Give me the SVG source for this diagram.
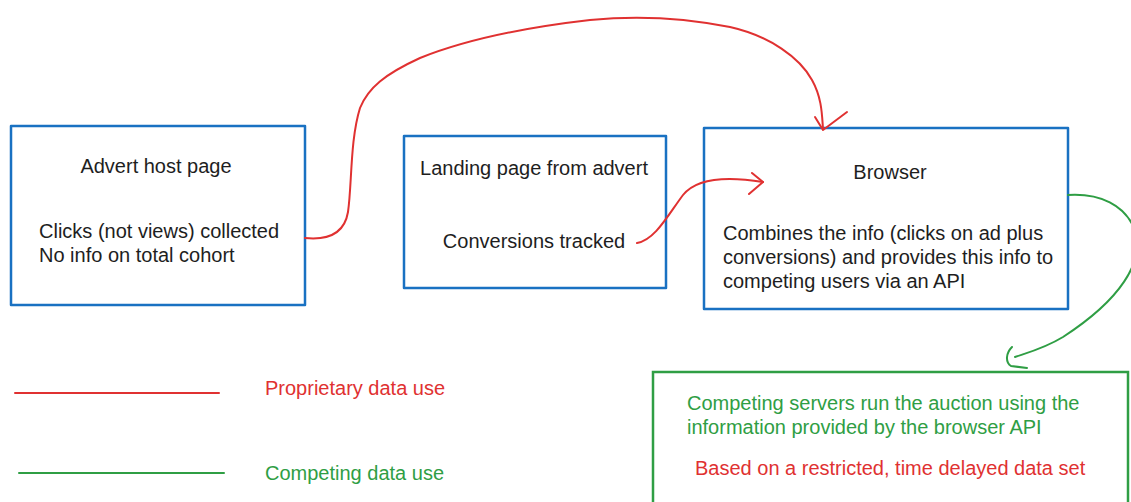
<svg xmlns="http://www.w3.org/2000/svg" width="1131" height="502" viewBox="0 0 1131 502">
  <style>
    .box { fill: none; stroke: #1971c2; stroke-width: 2.5; stroke-linejoin: round; }
    .gbox { fill: none; stroke: #2f9e44; stroke-width: 2.5; }
    .txt { font-family: "Liberation Sans", Arial, sans-serif; font-size: 20px; fill: #1e1e1e; }
    .mid { text-anchor: middle; }
    .red { fill: #e03131; }
    .green { fill: #2f9e44; }
    .rline { fill: none; stroke: #e03131; stroke-width: 2; stroke-linecap: round; stroke-linejoin: round; }
    .gline { fill: none; stroke: #2f9e44; stroke-width: 2; stroke-linecap: round; stroke-linejoin: round; }
  </style>
  <rect width="1131" height="502" fill="#ffffff"/>

  <!-- Advert host page -->
  <g id="advert-host">
    <rect class="box" x="11" y="126" width="294" height="179"/>
    <text class="txt mid" x="156" y="173">Advert host page</text>
    <text class="txt" x="39" y="238">Clicks (not views) collected</text>
    <text class="txt" x="39" y="262">No info on total cohort</text>
  </g>

  <!-- Landing page -->
  <g id="landing-page">
    <rect class="box" x="404" y="136" width="262" height="152"/>
    <text class="txt mid" x="534" y="175">Landing page from advert</text>
    <text class="txt mid" x="534" y="248">Conversions tracked</text>
  </g>

  <!-- Browser -->
  <g id="browser">
    <rect class="box" x="704" y="128" width="364" height="181"/>
    <text class="txt mid" x="890" y="179">Browser</text>
    <text class="txt" x="723" y="240">Combines the info (clicks on ad plus</text>
    <text class="txt" x="723" y="264">conversions) and provides this info to</text>
    <text class="txt" x="723" y="288">competing users via an API</text>
  </g>

  <!-- Competing servers -->
  <g id="competing-servers">
    <rect class="gbox" x="653" y="372" width="475" height="140"/>
    <text class="txt green" x="687" y="410">Competing servers run the auction using the</text>
    <text class="txt green" x="687" y="434">information provided by the browser API</text>
    <text class="txt red" x="695" y="475">Based on a restricted, time delayed data set</text>
  </g>

  <!-- Connectors -->
  <g id="connectors">
    <!-- advert host -> browser, over the top -->
    <path class="rline" d="M305,238 C325,240 344,236 348,212 C352,185 350,140 360,108 C368,88 385,74 420,58 C460,42 520,28 590,20 C630,16 680,17 730,27 C770,36 800,58 812,80 C822,98 822,115 823,129"/>
    <path class="rline" stroke-width="2.5" d="M815,117 L823,130 L847,112"/>
    <!-- landing page -> browser -->
    <path class="rline" d="M637,243 C655,240 668,215 683,195 C695,180 720,175 763,182"/>
    <path class="rline" d="M752,173 L763,182 L749,194"/>
    <!-- browser -> competing servers -->
    <path class="gline" d="M1068,195 C1100,193 1125,205 1135,230 C1145,262 1120,300 1063,337 C1045,348 1030,352 1015,357"/>
    <path class="gline" d="M1012,347 C1006,353 1005,362 1011,366 L1027,368"/>
  </g>

  <!-- Legend -->
  <g id="legend">
    <path class="rline" d="M15,393 L219,393"/>
    <text class="txt red" x="265" y="395">Proprietary data use</text>
    <path class="gline" d="M19,473 L224,473"/>
    <text class="txt green" x="265" y="480">Competing data use</text>
  </g>
</svg>
